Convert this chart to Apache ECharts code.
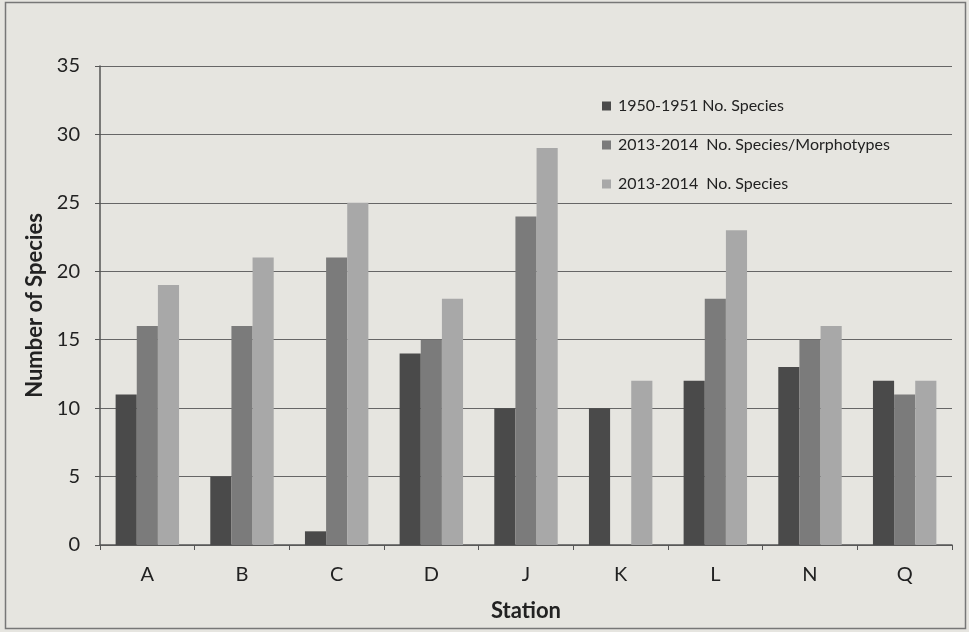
<!DOCTYPE html>
<html><head><meta charset="utf-8">
<script src="https://cdn.jsdelivr.net/npm/echarts@6/dist/echarts.min.js"></script>
<style>html,body{margin:0;padding:0;background:#e6e5e0}#c{width:969px;height:632px}</style>
</head><body><div id="c"></div>
<script>
const categories = ['A','B','C','D','J','K','L','N','Q'];
const species1950 = [11,5,1,14,10,10,12,13,12];
const speciesMorpho2013 = [16,16,21,15,24,0,18,15,11];
const species2013 = [19,21,25,18,29,12,23,16,12];
const seriesNames = ['1950-1951 No. Species','2013-2014  No. Species/Morphotypes','2013-2014  No. Species'];

const FONT = 'Lato, "Open Sans", sans-serif';
const chart = echarts.init(document.getElementById('c'));
chart.setOption({
  backgroundColor: '#e6e5e0',
  animation: false,
  textStyle: {fontFamily: FONT},
  graphic: [{type:'rect', shape:{x:5.5,y:2.5,width:960,height:626}, style:{fill:null, stroke:'#777', lineWidth:1.5}, silent:true}],
  legend: {
    orient: 'vertical', left: 602, top: 98, itemGap: 23, itemWidth: 9, itemHeight: 9,
    icon: 'rect', padding: 0,
    textStyle: {fontFamily: FONT, fontSize: 16, color: '#222', padding: [0,0,0,2]},
    data: seriesNames
  },
  grid: {left: 100, right: 17, top: 66, bottom: 87},
  xAxis: {
    type: 'category', data: categories,
    name: 'Station', nameLocation: 'middle', nameGap: 55,
    nameTextStyle: {fontFamily: FONT, fontWeight: 'bold', fontSize: 22, color: '#222'},
    axisLine: {lineStyle: {color: '#555', width: 1.5}},
    axisTick: {show: true, length: 5, lineStyle:{color:'#555'}},
    axisLabel: {fontFamily: FONT, fontSize: 20, color: '#222', margin: 20}
  },
  yAxis: {
    type: 'value', min: 0, max: 35, interval: 5,
    name: 'Number of Species', nameLocation: 'middle', nameGap: 49,
    nameTextStyle: {fontFamily: FONT, fontWeight: 'bold', fontSize: 22, color: '#222'},
    axisLine: {show: true, lineStyle: {color: '#555', width: 1.5}},
    axisTick: {show: true, length: 5, lineStyle:{color:'#555'}},
    axisLabel: {fontFamily: FONT, fontSize: 20, color: '#222', margin: 20},
    splitLine: {lineStyle: {color: '#666', width: 1.2}}
  },
  series: [
    {name: seriesNames[0], type: 'bar', data: species1950, itemStyle: {color: '#4a4a4a'}, barGap: '0%', barCategoryGap: '33%'},
    {name: seriesNames[1], type: 'bar', data: speciesMorpho2013, itemStyle: {color: '#7b7b7b'}},
    {name: seriesNames[2], type: 'bar', data: species2013, itemStyle: {color: '#a8a8a8'}}
  ]
});
</script></body></html>
